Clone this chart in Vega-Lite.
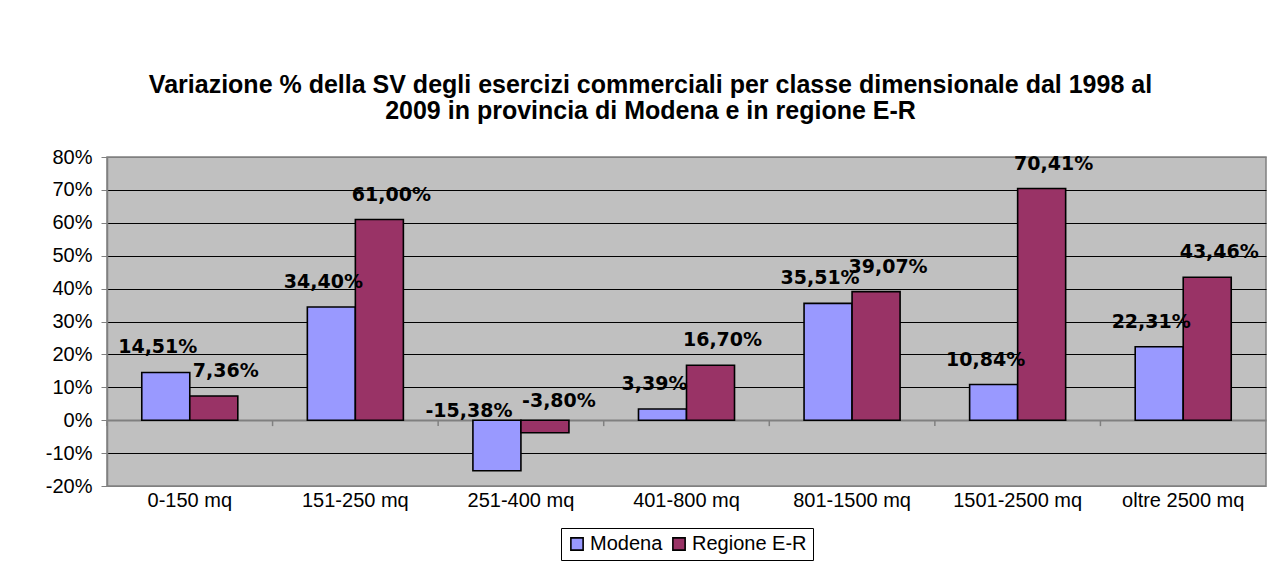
{
  "$schema": "https://vega.github.io/schema/vega-lite/v6.json",
  "width": 1159,
  "height": 329,
  "autosize": {"type": "pad"},
  "padding": {"left": 45, "top": 73, "right": 18, "bottom": 8},
  "background": "white",
  "title": {
    "text": ["Variazione % della SV degli esercizi commerciali per classe dimensionale dal 1998 al", "2009 in provincia di Modena e in regione E-R"],
    "font": "Liberation Sans",
    "fontSize": 25,
    "fontWeight": "bold",
    "lineHeight": 26,
    "anchor": "middle",
    "frame": "group",
    "dx": -36,
    "offset": 23,
    "color": "black"
  },
  "data": {
    "values": [
      {"cat": "0-150 mq", "serie": "Modena", "value": 0.1451},
      {"cat": "0-150 mq", "serie": "Regione E-R", "value": 0.0736},
      {"cat": "151-250 mq", "serie": "Modena", "value": 0.3440},
      {"cat": "151-250 mq", "serie": "Regione E-R", "value": 0.6100},
      {"cat": "251-400 mq", "serie": "Modena", "value": -0.1538},
      {"cat": "251-400 mq", "serie": "Regione E-R", "value": -0.0380},
      {"cat": "401-800 mq", "serie": "Modena", "value": 0.0339},
      {"cat": "401-800 mq", "serie": "Regione E-R", "value": 0.1670},
      {"cat": "801-1500 mq", "serie": "Modena", "value": 0.3551},
      {"cat": "801-1500 mq", "serie": "Regione E-R", "value": 0.3907},
      {"cat": "1501-2500 mq", "serie": "Modena", "value": 0.1084},
      {"cat": "1501-2500 mq", "serie": "Regione E-R", "value": 0.7041},
      {"cat": "oltre 2500 mq", "serie": "Modena", "value": 0.2231},
      {"cat": "oltre 2500 mq", "serie": "Regione E-R", "value": 0.4346}
    ]
  },
  "resolve": {"scale": {"x": "independent"}},
  "layer": [
    {
      "encoding": {
        "x": {
          "field": "cat", "type": "nominal", "sort": null,
          "scale": {"paddingInner": 0.42, "paddingOuter": 0.21},
          "axis": {
            "title": null, "labelAngle": 0, "ticks": false, "domain": false, "grid": false,
            "labelFont": "Liberation Sans", "labelFontSize": 20, "labelColor": "black", "labelPadding": 4
          }
        },
        "xOffset": {"field": "serie", "type": "nominal", "sort": ["Modena", "Regione E-R"], "scale": {"paddingInner": 0, "paddingOuter": 0}},
        "y": {
          "field": "value", "type": "quantitative",
          "scale": {"domain": [-0.2, 0.8], "nice": false, "zero": false},
          "axis": {
            "title": null,
            "values": [-0.2, -0.1, 0, 0.1, 0.2, 0.3, 0.4, 0.5, 0.6, 0.7, 0.8],
            "format": ".0%",
            "labelFont": "Liberation Sans", "labelFontSize": 20, "labelColor": "black", "labelPadding": 9,
            "tickSize": 6, "tickColor": "#808080", "domainColor": "#808080", "domainWidth": 1.5,
            "grid": true,
            "gridColor": {"condition": {"test": "datum.value === 0 || datum.value === 0.8 || datum.value === -0.2", "value": "#808080"}, "value": "black"},
            "gridWidth": {"condition": {"test": "datum.value === 0", "value": 2}, "value": 1}
          }
        }
      },
      "layer": [
        {
          "mark": {"type": "bar", "stroke": "black", "strokeWidth": 1.6},
          "encoding": {
            "color": {
              "field": "serie", "type": "nominal",
              "scale": {"domain": ["Modena", "Regione E-R"], "range": ["#9999FF", "#993366"]},
              "legend": {
                "title": null, "orient": "bottom", "direction": "horizontal",
                "strokeColor": "black", "fillColor": "white", "padding": 6,
                "symbolType": "square", "symbolSize": 150, "symbolStrokeColor": "black", "symbolStrokeWidth": 1.6,
                "labelFont": "Liberation Sans", "labelFontSize": 20, "labelColor": "black",
                "labelOffset": 3, "columnPadding": 6, "offset": 18
              }
            }
          }
        },
        {
          "transform": [{"filter": "datum.serie === 'Modena' && datum.value >= 0"}],
          "mark": {"type": "text", "font": "DejaVu Sans", "fontWeight": "bold", "fontSize": 19, "baseline": "middle", "dx": -8, "dy": -25, "color": "black"},
          "encoding": {
            "text": {"field": "value", "type": "quantitative", "format": ".2%"}
          }
        },
        {
          "transform": [{"filter": "datum.serie === 'Regione E-R' && datum.value >= 0"}],
          "mark": {"type": "text", "font": "DejaVu Sans", "fontWeight": "bold", "fontSize": 19, "baseline": "middle", "dx": 12, "dy": -25, "color": "black"},
          "encoding": {
            "text": {"field": "value", "type": "quantitative", "format": ".2%"}
          }
        },
        {
          "transform": [{"filter": "datum.serie === 'Modena' && datum.value < 0"}],
          "mark": {"type": "text", "font": "DejaVu Sans", "fontWeight": "bold", "fontSize": 19, "baseline": "middle", "dx": -28, "dy": -9, "color": "black"},
          "encoding": {
            "y": {
              "datum": 0, "type": "quantitative",
              "axis": {
                "title": null,
                "values": [-0.2, -0.1, 0, 0.1, 0.2, 0.3, 0.4, 0.5, 0.6, 0.7, 0.8],
                "format": ".0%"
              }
            },
            "text": {"field": "value", "type": "quantitative", "format": ".2%"}
          }
        },
        {
          "transform": [{"filter": "datum.serie === 'Regione E-R' && datum.value < 0"}],
          "mark": {"type": "text", "font": "DejaVu Sans", "fontWeight": "bold", "fontSize": 19, "baseline": "middle", "dx": 14, "dy": -19, "color": "black"},
          "encoding": {
            "y": {
              "datum": 0, "type": "quantitative",
              "axis": {
                "title": null,
                "values": [-0.2, -0.1, 0, 0.1, 0.2, 0.3, 0.4, 0.5, 0.6, 0.7, 0.8],
                "format": ".0%"
              }
            },
            "text": {"field": "value", "type": "quantitative", "format": ".2%"}
          }
        }
      ]
    },
    {
      "transform": [{"filter": "datum.serie === 'Modena'"}],
      "mark": {"type": "rule", "color": "#808080", "strokeWidth": 1.5},
      "encoding": {
        "x": {"field": "cat", "type": "nominal", "sort": null, "bandPosition": 0, "scale": {"paddingInner": 0, "paddingOuter": 0}, "axis": null},
        "y": {
          "datum": 0, "type": "quantitative",
          "axis": {
            "title": null,
            "values": [-0.2, -0.1, 0, 0.1, 0.2, 0.3, 0.4, 0.5, 0.6, 0.7, 0.8],
            "format": ".0%"
          }
        },
        "y2": {"datum": -0.018}
      }
    }
  ],
  "config": {
    "locale": {"number": {"decimal": ",", "thousands": ".", "grouping": [3], "currency": ["€", ""], "minus": "-"}},
    "view": {"fill": "#C0C0C0", "stroke": "#808080", "strokeWidth": 1.5},
    "legend": {"layout": {"bottom": {"anchor": "middle"}}}
  }
}
